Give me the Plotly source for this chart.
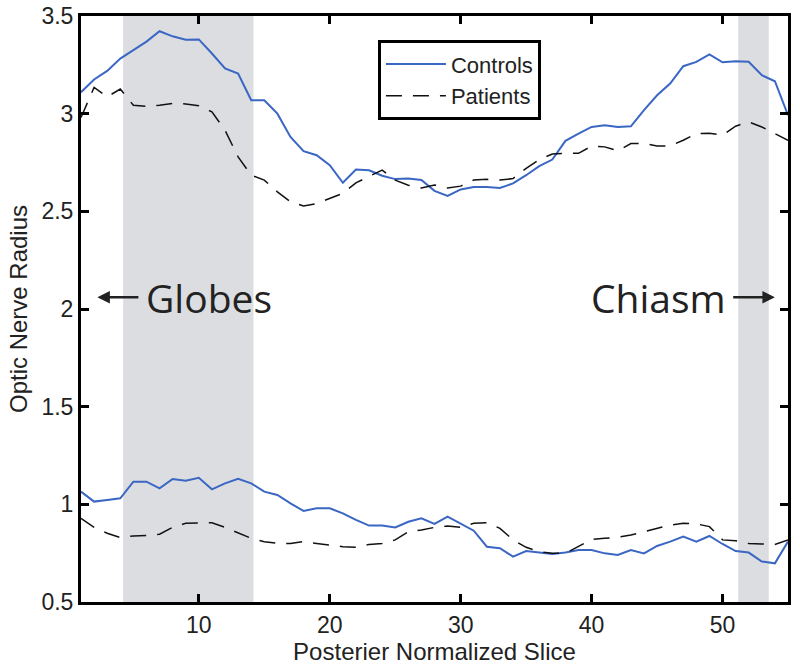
import plotly.graph_objects as go

slices = list(range(1, 56))

controls_upper = [3.11, 3.175, 3.219, 3.282, 3.325, 3.369, 3.422, 3.396, 3.379, 3.38,
                  3.308, 3.232, 3.205, 3.069, 3.069, 3.0, 2.881, 2.808, 2.787, 2.736,
                  2.646, 2.714, 2.71, 2.682, 2.665, 2.668, 2.66, 2.605, 2.579, 2.612,
                  2.625, 2.625, 2.62, 2.643, 2.685, 2.731, 2.765, 2.861, 2.898, 2.932,
                  2.941, 2.932, 2.935, 3.018, 3.094, 3.154, 3.243, 3.265, 3.303, 3.263,
                  3.268, 3.266, 3.197, 3.166, 2.992]
patients_upper = [2.98, 3.134, 3.086, 3.126, 3.043, 3.038, 3.043, 3.052, 3.05, 3.04,
                  3.009, 2.915, 2.779, 2.685, 2.66, 2.6, 2.549, 2.527, 2.54, 2.566,
                  2.592, 2.646, 2.677, 2.711, 2.66, 2.634, 2.62, 2.635, 2.62, 2.629,
                  2.66, 2.664, 2.66, 2.668, 2.72, 2.765, 2.793, 2.797, 2.797, 2.834,
                  2.83, 2.81, 2.847, 2.847, 2.835, 2.835, 2.864, 2.898, 2.9, 2.89,
                  2.936, 2.958, 2.932, 2.898, 2.864]
controls_lower = [1.065, 1.014, 1.022, 1.031, 1.116, 1.116, 1.082, 1.13, 1.121, 1.136,
                  1.077, 1.107, 1.131, 1.107, 1.065, 1.048, 1.005, 0.966, 0.98, 0.98,
                  0.954, 0.92, 0.891, 0.891, 0.882, 0.911, 0.928, 0.9, 0.937, 0.9,
                  0.865, 0.783, 0.775, 0.732, 0.761, 0.753, 0.746, 0.753, 0.766, 0.766,
                  0.749, 0.741, 0.766, 0.749, 0.787, 0.809, 0.835, 0.809, 0.838, 0.797,
                  0.761, 0.753, 0.707, 0.698, 0.809]
patients_lower = [0.928, 0.882, 0.852, 0.83, 0.838, 0.84, 0.847, 0.882, 0.903, 0.906,
                  0.906, 0.882, 0.855, 0.826, 0.809, 0.8, 0.8, 0.809, 0.8, 0.792,
                  0.783, 0.78, 0.795, 0.8, 0.818, 0.86, 0.869, 0.882, 0.889, 0.882,
                  0.903, 0.906, 0.877, 0.818, 0.78, 0.758, 0.749, 0.749, 0.787, 0.821,
                  0.826, 0.831, 0.843, 0.86, 0.877, 0.894, 0.903, 0.9, 0.886, 0.818,
                  0.814, 0.8, 0.797, 0.795, 0.818]

shaded_regions = [(4.22, 14.17), (51.2, 53.53)]
x_ticks = [10, 20, 30, 40, 50]
y_ticks = [0.5, 1, 1.5, 2, 2.5, 3, 3.5]
y_tick_labels = ["0.5", "1", "1.5", "2", "2.5", "3", "3.5"]

blue = "#3a66c4"
dash_style = "16px,11px"
txt = "#222222"
helv = "Liberation Sans, Arial, sans-serif"

fig = go.Figure()
fig.add_trace(go.Scatter(x=slices, y=controls_upper, mode="lines", name="Controls",
                         line=dict(color=blue, width=2), legendgroup="c"))
fig.add_trace(go.Scatter(x=slices, y=patients_upper, mode="lines", name="Patients",
                         line=dict(color="#111111", width=1.5, dash=dash_style), legendgroup="p"))
fig.add_trace(go.Scatter(x=slices, y=controls_lower, mode="lines", name="Controls",
                         line=dict(color=blue, width=2), legendgroup="c", showlegend=False))
fig.add_trace(go.Scatter(x=slices, y=patients_lower, mode="lines", name="Patients",
                         line=dict(color="#111111", width=1.5, dash=dash_style), legendgroup="p",
                         showlegend=False))

for x0, x1 in shaded_regions:
    fig.add_shape(type="rect", xref="x", yref="paper", x0=x0, x1=x1, y0=0, y1=1,
                  fillcolor="#dcdde0", line=dict(width=0), layer="below")

label_font = dict(family="Open Sans, Noto Sans, sans-serif", size=39, color=txt)
label_y = 2.06
fig.add_annotation(x=5.8, y=label_y, xref="x", yref="y", text="Globes", showarrow=False,
                   xanchor="left", yanchor="middle", font=label_font)
fig.add_annotation(x=2.25, y=label_y, ax=5.5, ay=label_y, xref="x", yref="y", axref="x", ayref="y",
                   text="", showarrow=True, arrowhead=2, arrowsize=1.0, arrowwidth=2.5,
                   arrowcolor=txt)
fig.add_annotation(x=50.4, y=label_y, xref="x", yref="y", text="Chiasm", showarrow=False,
                   xanchor="right", yanchor="middle", font=label_font)
fig.add_annotation(x=54.0, y=label_y, ax=50.7, ay=label_y, xref="x", yref="y", axref="x", ayref="y",
                   text="", showarrow=True, arrowhead=2, arrowsize=1.0, arrowwidth=2.5,
                   arrowcolor=txt)

axis_common = dict(showline=True, linecolor="black", linewidth=3, mirror="ticks",
                   ticks="inside", ticklen=8, tickwidth=3, tickcolor="black",
                   showgrid=False, zeroline=False, automargin=False,
                   tickfont=dict(family=helv, size=23, color=txt))

fig.update_layout(
    width=800, height=667,
    margin=dict(l=81, r=12, t=16, b=65),
    plot_bgcolor="white", paper_bgcolor="white",
    xaxis=dict(range=[1, 55], tickvals=x_ticks,
               title=dict(text="Posterier Normalized Slice", standoff=0,
                          font=dict(family=helv, size=24, color=txt)),
               **axis_common),
    yaxis=dict(range=[0.5, 3.5], tickvals=y_ticks, ticktext=y_tick_labels,
               title=dict(text="Optic Nerve Radius", standoff=8,
                          font=dict(family=helv, size=24, color=txt)),
               **axis_common),
    legend=dict(x=0.42, y=0.9586, xanchor="left", yanchor="top",
                bordercolor="black", borderwidth=3, bgcolor="white",
                font=dict(family=helv, size=22, color=txt),
                tracegroupgap=0, itemwidth=60),
    showlegend=True,
)

# remove the page's default 8px body margin so the figure sits at the window's corner
fig.write_html("out.html", config={"displayModeBar": False},
               post_script="document.body.style.margin='0px';")
